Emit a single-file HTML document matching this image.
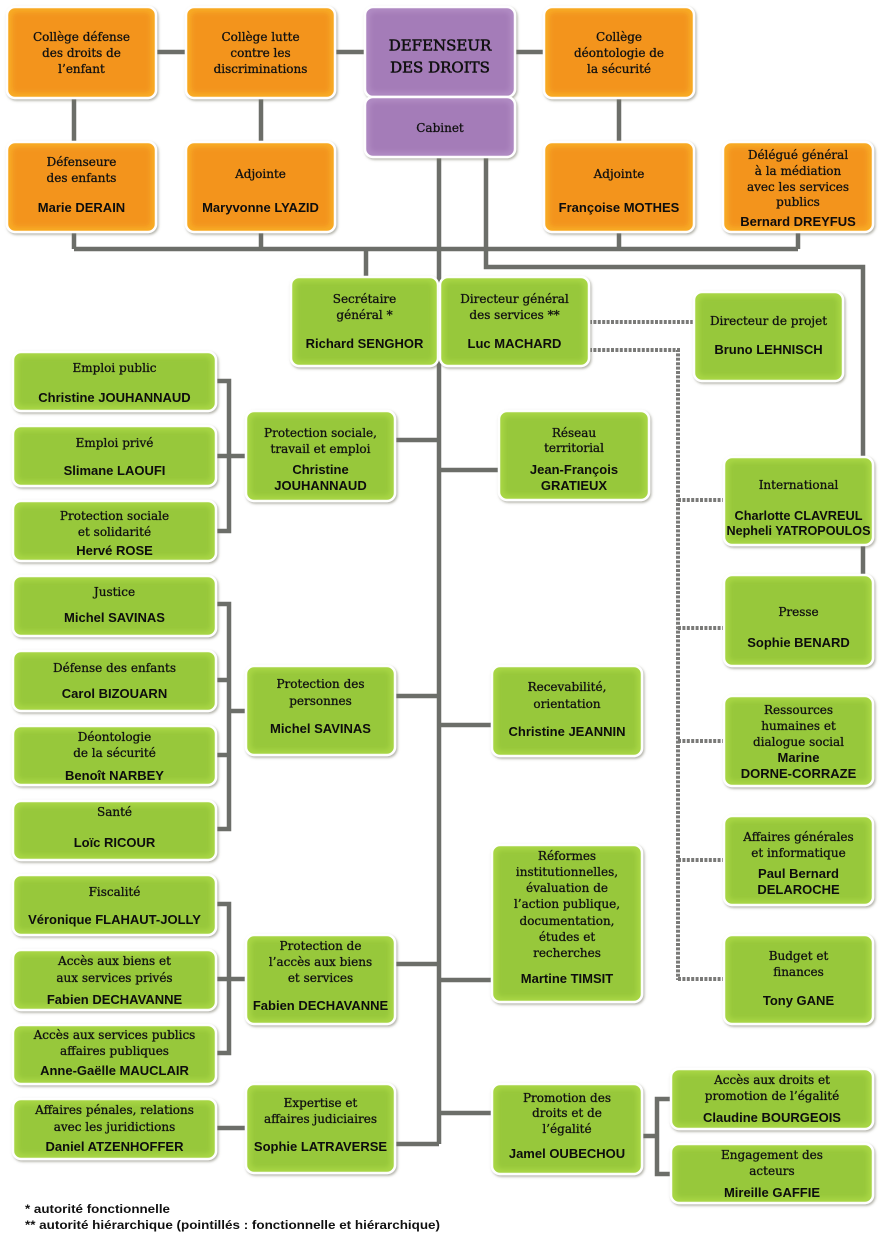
<!DOCTYPE html>
<html><head><meta charset="utf-8">
<style>
html,body{margin:0;padding:0;background:#fff;}
svg{display:block;}
.l{font-family:"DejaVu Serif","Liberation Serif",serif;font-size:12px;fill:#111;stroke:#111;stroke-width:0.3;text-anchor:middle;}
.n{font-family:"Liberation Sans",Arial,sans-serif;font-weight:bold;font-size:13px;fill:#0d0d0d;text-anchor:middle;}
.t{font-family:"DejaVu Serif","Liberation Serif",serif;font-size:15px;fill:#111;stroke:#111;stroke-width:0.55;text-anchor:middle;}
.f{font-family:"Liberation Sans",Arial,sans-serif;font-weight:bold;font-size:12px;fill:#111;}
.o{fill:#f8ab25;stroke:#fff;stroke-width:2.5;}
.oi{fill:#f3941d;}
.g{fill:#a8d645;stroke:#fff;stroke-width:2.5;}
.gi{fill:#97c83a;}
.p{fill:#b08bc3;stroke:#fff;stroke-width:2.5;}
.pi{fill:#a47cb8;}
.ln{stroke:#6c6e69;stroke-width:4.5;fill:none;}
.dt{stroke:#7a7a78;stroke-width:4;fill:none;stroke-dasharray:3 1.4;}
</style></head>
<body>
<svg width="879" height="1244" viewBox="0 0 879 1244" xmlns="http://www.w3.org/2000/svg">
<defs>
<filter id="sh" x="-10%" y="-10%" width="125%" height="130%">
<feDropShadow dx="1.2" dy="1.5" stdDeviation="1.3" flood-color="#6f6f60" flood-opacity="0.55"/>
</filter>
<filter id="bl" x="-10%" y="-10%" width="120%" height="120%">
<feGaussianBlur stdDeviation="2.5"/>
</filter>
</defs>

<!-- solid connectors -->
<g class="ln">
<path d="M156 52H186M335 52H365M515 52H544"/>
<path d="M74 98V142M261 98V142M619 98V142"/>
<path d="M74 232V249M261 232V249M619 232V249M798 232V249"/>
<path d="M74 249H798"/>
<path d="M366 249V277"/>
<path d="M439 157V1144"/>
<path d="M486 157V267H863V457M863 545V575"/>
<path d="M395 440H439M439 470H499M395 696H439M439 725H492M395 964H439M439 980H492M439 1113H492M395 1144H439"/>
<path d="M216 381H229V531H216M216 456H246"/>
<path d="M216 604H229V829H216M216 680H229M216 755H229M229 711H246"/>
<path d="M216 904H229V1053H216M216 979H246"/>
<path d="M216 1128H246"/>
<path d="M642 1136H657M671 1099H657V1174H671"/>
</g>

<!-- dotted connectors -->
<g class="dt">
<path d="M589 322H694"/>
<path d="M589 350H678V980"/>
<path d="M678 500H724M678 628H724M678 741H724M678 860H724M678 979H724"/>
</g>

<!-- orange boxes -->
<g>
<rect class="o" x="7" y="7" width="149" height="91" rx="8" filter="url(#sh)"/><rect class="oi" x="12" y="12" width="139" height="81" rx="5" filter="url(#bl)"/>
<rect class="o" x="186" y="7" width="149" height="91" rx="8" filter="url(#sh)"/><rect class="oi" x="191" y="12" width="139" height="81" rx="5" filter="url(#bl)"/>
<rect class="o" x="544" y="7" width="150" height="91" rx="8" filter="url(#sh)"/><rect class="oi" x="549" y="12" width="140" height="81" rx="5" filter="url(#bl)"/>
<rect class="o" x="7" y="142" width="149" height="90" rx="8" filter="url(#sh)"/><rect class="oi" x="12" y="147" width="139" height="80" rx="5" filter="url(#bl)"/>
<rect class="o" x="186" y="142" width="149" height="90" rx="8" filter="url(#sh)"/><rect class="oi" x="191" y="147" width="139" height="80" rx="5" filter="url(#bl)"/>
<rect class="o" x="544" y="142" width="150" height="90" rx="8" filter="url(#sh)"/><rect class="oi" x="549" y="147" width="140" height="80" rx="5" filter="url(#bl)"/>
<rect class="o" x="723" y="142" width="150" height="90" rx="8" filter="url(#sh)"/><rect class="oi" x="728" y="147" width="140" height="80" rx="5" filter="url(#bl)"/>
</g>

<!-- purple boxes -->
<g>
<rect class="p" x="365" y="7" width="150" height="90" rx="8" filter="url(#sh)"/><rect class="pi" x="370" y="12" width="140" height="80" rx="5" filter="url(#bl)"/>
<rect class="p" x="365" y="97" width="150" height="60" rx="8" filter="url(#sh)"/><rect class="pi" x="370" y="102" width="140" height="50" rx="5" filter="url(#bl)"/>
</g>

<!-- green boxes -->
<g>
<rect class="g" x="291" y="277" width="147" height="89" rx="8" filter="url(#sh)"/><rect class="gi" x="296" y="282" width="137" height="79" rx="5" filter="url(#bl)"/>
<rect class="g" x="440" y="277" width="149" height="89" rx="8" filter="url(#sh)"/><rect class="gi" x="445" y="282" width="139" height="79" rx="5" filter="url(#bl)"/>
<rect class="g" x="694" y="292" width="149" height="89" rx="8" filter="url(#sh)"/><rect class="gi" x="699" y="297" width="139" height="79" rx="5" filter="url(#bl)"/>

<rect class="g" x="13" y="352" width="203" height="59" rx="8" filter="url(#sh)"/><rect class="gi" x="18" y="357" width="193" height="49" rx="5" filter="url(#bl)"/>
<rect class="g" x="13" y="426" width="203" height="60" rx="8" filter="url(#sh)"/><rect class="gi" x="18" y="431" width="193" height="50" rx="5" filter="url(#bl)"/>
<rect class="g" x="13" y="501" width="203" height="60" rx="8" filter="url(#sh)"/><rect class="gi" x="18" y="506" width="193" height="50" rx="5" filter="url(#bl)"/>
<rect class="g" x="246" y="411" width="149" height="90" rx="8" filter="url(#sh)"/><rect class="gi" x="251" y="416" width="139" height="80" rx="5" filter="url(#bl)"/>

<rect class="g" x="13" y="576" width="203" height="60" rx="8" filter="url(#sh)"/><rect class="gi" x="18" y="581" width="193" height="50" rx="5" filter="url(#bl)"/>
<rect class="g" x="13" y="651" width="203" height="60" rx="8" filter="url(#sh)"/><rect class="gi" x="18" y="656" width="193" height="50" rx="5" filter="url(#bl)"/>
<rect class="g" x="13" y="726" width="203" height="59" rx="8" filter="url(#sh)"/><rect class="gi" x="18" y="731" width="193" height="49" rx="5" filter="url(#bl)"/>
<rect class="g" x="13" y="801" width="203" height="59" rx="8" filter="url(#sh)"/><rect class="gi" x="18" y="806" width="193" height="49" rx="5" filter="url(#bl)"/>
<rect class="g" x="246" y="666" width="149" height="89" rx="8" filter="url(#sh)"/><rect class="gi" x="251" y="671" width="139" height="79" rx="5" filter="url(#bl)"/>

<rect class="g" x="13" y="875" width="203" height="60" rx="8" filter="url(#sh)"/><rect class="gi" x="18" y="880" width="193" height="50" rx="5" filter="url(#bl)"/>
<rect class="g" x="13" y="950" width="203" height="60" rx="8" filter="url(#sh)"/><rect class="gi" x="18" y="955" width="193" height="50" rx="5" filter="url(#bl)"/>
<rect class="g" x="13" y="1025" width="203" height="59" rx="8" filter="url(#sh)"/><rect class="gi" x="18" y="1030" width="193" height="49" rx="5" filter="url(#bl)"/>
<rect class="g" x="13" y="1099" width="203" height="60" rx="8" filter="url(#sh)"/><rect class="gi" x="18" y="1104" width="193" height="50" rx="5" filter="url(#bl)"/>
<rect class="g" x="246" y="935" width="149" height="89" rx="8" filter="url(#sh)"/><rect class="gi" x="251" y="940" width="139" height="79" rx="5" filter="url(#bl)"/>
<rect class="g" x="246" y="1084" width="149" height="89" rx="8" filter="url(#sh)"/><rect class="gi" x="251" y="1089" width="139" height="79" rx="5" filter="url(#bl)"/>

<rect class="g" x="499" y="411" width="150" height="89" rx="8" filter="url(#sh)"/><rect class="gi" x="504" y="416" width="140" height="79" rx="5" filter="url(#bl)"/>
<rect class="g" x="492" y="666" width="150" height="90" rx="8" filter="url(#sh)"/><rect class="gi" x="497" y="671" width="140" height="80" rx="5" filter="url(#bl)"/>
<rect class="g" x="492" y="845" width="150" height="157" rx="8" filter="url(#sh)"/><rect class="gi" x="497" y="850" width="140" height="147" rx="5" filter="url(#bl)"/>
<rect class="g" x="492" y="1084" width="150" height="90" rx="8" filter="url(#sh)"/><rect class="gi" x="497" y="1089" width="140" height="80" rx="5" filter="url(#bl)"/>
<rect class="g" x="671" y="1069" width="202" height="60" rx="8" filter="url(#sh)"/><rect class="gi" x="676" y="1074" width="192" height="50" rx="5" filter="url(#bl)"/>
<rect class="g" x="671" y="1144" width="202" height="59" rx="8" filter="url(#sh)"/><rect class="gi" x="676" y="1149" width="192" height="49" rx="5" filter="url(#bl)"/>

<rect class="g" x="724" y="457" width="149" height="88" rx="8" filter="url(#sh)"/><rect class="gi" x="729" y="462" width="139" height="78" rx="5" filter="url(#bl)"/>
<rect class="g" x="724" y="575" width="149" height="91" rx="8" filter="url(#sh)"/><rect class="gi" x="729" y="580" width="139" height="81" rx="5" filter="url(#bl)"/>
<rect class="g" x="724" y="696" width="149" height="90" rx="8" filter="url(#sh)"/><rect class="gi" x="729" y="701" width="139" height="80" rx="5" filter="url(#bl)"/>
<rect class="g" x="724" y="816" width="149" height="89" rx="8" filter="url(#sh)"/><rect class="gi" x="729" y="821" width="139" height="79" rx="5" filter="url(#bl)"/>
<rect class="g" x="724" y="935" width="149" height="89" rx="8" filter="url(#sh)"/><rect class="gi" x="729" y="940" width="139" height="79" rx="5" filter="url(#bl)"/>
</g>

<!-- texts: top orange row -->
<text class="l" x="81.5" y="41">Collège défense</text>
<text class="l" x="81.5" y="57">des droits de</text>
<text class="l" x="81.5" y="73">l’enfant</text>

<text class="l" x="260.5" y="41">Collège lutte</text>
<text class="l" x="260.5" y="57">contre les</text>
<text class="l" x="260.5" y="73">discriminations</text>

<text class="t" x="440" y="50.5">DEFENSEUR</text>
<text class="t" x="440" y="72.5">DES DROITS</text>
<text class="l" x="440" y="132">Cabinet</text>

<text class="l" x="619" y="41">Collège</text>
<text class="l" x="619" y="57">déontologie de</text>
<text class="l" x="619" y="73">la sécurité</text>

<!-- second orange row -->
<text class="l" x="81.5" y="166">Défenseure</text>
<text class="l" x="81.5" y="182">des enfants</text>
<text class="n" x="81.5" y="212">Marie DERAIN</text>

<text class="l" x="260.5" y="178">Adjointe</text>
<text class="n" x="260.5" y="212">Maryvonne LYAZID</text>

<text class="l" x="619" y="178">Adjointe</text>
<text class="n" x="619" y="212">Françoise MOTHES</text>

<text class="l" x="798" y="159">Délégué général</text>
<text class="l" x="798" y="175">à la médiation</text>
<text class="l" x="798" y="191">avec les services</text>
<text class="l" x="798" y="206">publics</text>
<text class="n" x="798" y="226">Bernard DREYFUS</text>

<!-- green second level -->
<text class="l" x="364.5" y="303">Secrétaire</text>
<text class="l" x="364.5" y="319">général *</text>
<text class="n" x="364.5" y="348">Richard SENGHOR</text>

<text class="l" x="514.5" y="303">Directeur général</text>
<text class="l" x="514.5" y="319">des services **</text>
<text class="n" x="514.5" y="348">Luc MACHARD</text>

<text class="l" x="768.5" y="325">Directeur de projet</text>
<text class="n" x="768.5" y="354">Bruno LEHNISCH</text>

<!-- left column -->
<text class="l" x="114.5" y="372">Emploi public</text>
<text class="n" x="114.5" y="402">Christine JOUHANNAUD</text>

<text class="l" x="114.5" y="447">Emploi privé</text>
<text class="n" x="114.5" y="475">Slimane LAOUFI</text>

<text class="l" x="114.5" y="520">Protection sociale</text>
<text class="l" x="114.5" y="536">et solidarité</text>
<text class="n" x="114.5" y="555">Hervé ROSE</text>

<text class="l" x="320.5" y="437">Protection sociale,</text>
<text class="l" x="320.5" y="453">travail et emploi</text>
<text class="n" x="320.5" y="474">Christine</text>
<text class="n" x="320.5" y="490">JOUHANNAUD</text>

<text class="l" x="114.5" y="596">Justice</text>
<text class="n" x="114.5" y="622">Michel SAVINAS</text>

<text class="l" x="114.5" y="672">Défense des enfants</text>
<text class="n" x="114.5" y="698">Carol BIZOUARN</text>

<text class="l" x="114.5" y="741">Déontologie</text>
<text class="l" x="114.5" y="757">de la sécurité</text>
<text class="n" x="114.5" y="780">Benoît NARBEY</text>

<text class="l" x="114.5" y="816">Santé</text>
<text class="n" x="114.5" y="847">Loïc RICOUR</text>

<text class="l" x="320.5" y="688">Protection des</text>
<text class="l" x="320.5" y="705">personnes</text>
<text class="n" x="320.5" y="733">Michel SAVINAS</text>

<text class="l" x="114.5" y="896">Fiscalité</text>
<text class="n" x="114.5" y="924">Véronique FLAHAUT-JOLLY</text>

<text class="l" x="114.5" y="965">Accès aux biens et</text>
<text class="l" x="114.5" y="982">aux services privés</text>
<text class="n" x="114.5" y="1004">Fabien DECHAVANNE</text>

<text class="l" x="114.5" y="1039">Accès aux services publics</text>
<text class="l" x="114.5" y="1055">affaires publiques</text>
<text class="n" x="114.5" y="1075">Anne-Gaëlle MAUCLAIR</text>

<text class="l" x="114.5" y="1114">Affaires pénales, relations</text>
<text class="l" x="114.5" y="1131">avec les juridictions</text>
<text class="n" x="114.5" y="1151">Daniel ATZENHOFFER</text>

<text class="l" x="320.5" y="950">Protection de</text>
<text class="l" x="320.5" y="966">l’accès aux biens</text>
<text class="l" x="320.5" y="982">et services</text>
<text class="n" x="320.5" y="1010">Fabien DECHAVANNE</text>

<text class="l" x="320.5" y="1107">Expertise et</text>
<text class="l" x="320.5" y="1123">affaires judiciaires</text>
<text class="n" x="320.5" y="1151">Sophie LATRAVERSE</text>

<!-- middle column -->
<text class="l" x="574" y="437">Réseau</text>
<text class="l" x="574" y="452">territorial</text>
<text class="n" x="574" y="474">Jean-François</text>
<text class="n" x="574" y="490">GRATIEUX</text>

<text class="l" x="567" y="691">Recevabilité,</text>
<text class="l" x="567" y="708">orientation</text>
<text class="n" x="567" y="736">Christine JEANNIN</text>

<text class="l" x="567" y="860">Réformes</text>
<text class="l" x="567" y="876">institutionnelles,</text>
<text class="l" x="567" y="892">évaluation de</text>
<text class="l" x="567" y="908">l’action publique,</text>
<text class="l" x="567" y="925">documentation,</text>
<text class="l" x="567" y="941">études et</text>
<text class="l" x="567" y="957">recherches</text>
<text class="n" x="567" y="983">Martine TIMSIT</text>

<text class="l" x="567" y="1102">Promotion des</text>
<text class="l" x="567" y="1117">droits et de</text>
<text class="l" x="567" y="1133">l’égalité</text>
<text class="n" x="567" y="1158">Jamel OUBECHOU</text>

<text class="l" x="772" y="1084">Accès aux droits et</text>
<text class="l" x="772" y="1100">promotion de l’égalité</text>
<text class="n" x="772" y="1122">Claudine BOURGEOIS</text>

<text class="l" x="772" y="1159">Engagement des</text>
<text class="l" x="772" y="1175">acteurs</text>
<text class="n" x="772" y="1197">Mireille GAFFIE</text>

<!-- right column -->
<text class="l" x="798.5" y="489">International</text>
<text class="n" x="798.5" y="520" textLength="128" lengthAdjust="spacingAndGlyphs">Charlotte CLAVREUL</text>
<text class="n" x="798.5" y="535" textLength="144" lengthAdjust="spacingAndGlyphs">Nepheli YATROPOULOS</text>

<text class="l" x="798.5" y="616">Presse</text>
<text class="n" x="798.5" y="647">Sophie BENARD</text>

<text class="l" x="798.5" y="714">Ressources</text>
<text class="l" x="798.5" y="730">humaines et</text>
<text class="l" x="798.5" y="746">dialogue social</text>
<text class="n" x="798.5" y="762">Marine</text>
<text class="n" x="798.5" y="778">DORNE-CORRAZE</text>

<text class="l" x="798.5" y="841">Affaires générales</text>
<text class="l" x="798.5" y="857">et informatique</text>
<text class="n" x="798.5" y="878">Paul Bernard</text>
<text class="n" x="798.5" y="894">DELAROCHE</text>

<text class="l" x="798.5" y="960">Budget et</text>
<text class="l" x="798.5" y="976">finances</text>
<text class="n" x="798.5" y="1005">Tony GANE</text>

<!-- footnotes -->
<text class="f" x="25" y="1213" textLength="145" lengthAdjust="spacingAndGlyphs">* autorité fonctionnelle</text>
<text class="f" x="25" y="1229" textLength="415" lengthAdjust="spacingAndGlyphs">** autorité hiérarchique (pointillés : fonctionnelle et hiérarchique)</text>
</svg>
</body></html>
